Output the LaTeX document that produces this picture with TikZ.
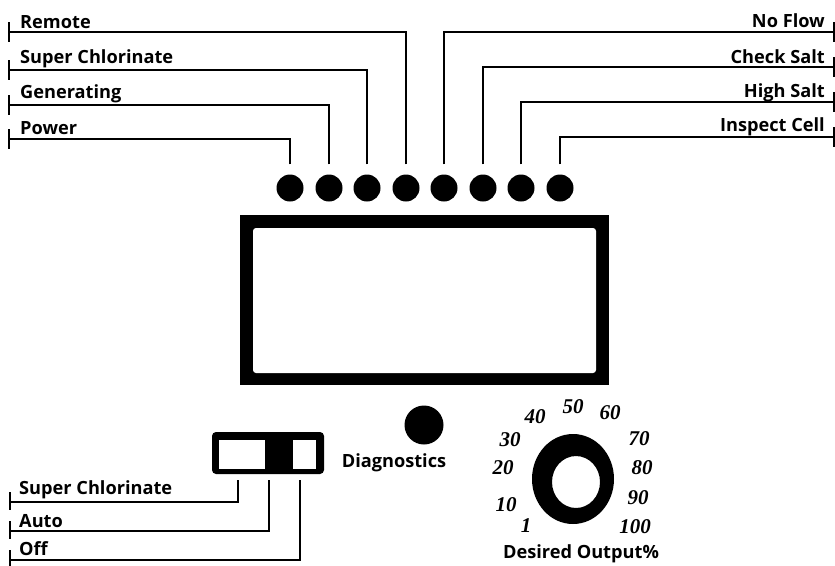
\documentclass[tikz,border=0pt]{standalone}
\usepackage{fontspec}
\setmainfont{Open Sans}
\newfontfamily\dialfont{Liberation Serif}
\begin{document}
\begin{tikzpicture}[x=1pt,y=-1pt,
  led/.style={circle,fill=black,minimum size=27pt,inner sep=0pt},
  lbl/.style={font=\bfseries\fontsize{18.2}{18}\selectfont,inner sep=0pt},
  wire/.style={line width=1.8pt},
  tick/.style={line width=1.6pt},
  dial/.style={font=\dialfont\bfseries\itshape\fontsize{21}{21}\selectfont,inner sep=0pt}]
\useasboundingbox (0,0) rectangle (835,565);
% LEDs
\foreach \i/\x in {1/290,2/329,3/367,4/406,5/444,6/483,7/521,8/560}
  \node[led] (l\i) at (\x,188) {};
% left labels
\node[lbl,anchor=base west] (tRemote) at (20,28) {Remote};
\node[lbl,anchor=base west] (tSuper) at (20,63) {Super Chlorinate};
\node[lbl,anchor=base west] (tGen) at (20,98) {Generating};
\node[lbl,anchor=base west] (tPower) at (20,134) {Power};
\coordinate (c4) at (9,32);
\coordinate (c3) at (9,70);
\coordinate (c2) at (9,105);
\coordinate (c1) at (9,139);
\foreach \i in {1,2,3,4}{
  \draw[wire] ([yshift=10pt]l\i.north) |- (c\i);
  \draw[tick] ([yshift=10pt]c\i) -- ([yshift=-10pt]c\i);
}
% right labels
\node[lbl,anchor=base east] (tNoFlow) at (825,27) {No Flow};
\node[lbl,anchor=base east] (tCheck) at (825,63) {Check Salt};
\node[lbl,anchor=base east] (tHigh) at (825,97) {High Salt};
\node[lbl,anchor=base east] (tInspect) at (825,131) {Inspect Cell};
\coordinate (c5) at (834,32);
\coordinate (c6) at (834,67);
\coordinate (c7) at (834,102);
\coordinate (c8) at (834,137);
\foreach \i in {5,6,7,8}{
  \draw[wire] ([yshift=10pt]l\i.north) |- (c\i);
  \draw[tick] ([yshift=10pt]c\i) -- ([yshift=-10pt]c\i);
}
% display
\fill[black] (240,215) rectangle (609,385);
\fill[white,rounded corners=3pt] (253,228) rectangle (596,373);
\node[inner sep=0pt] (disp) at (424,300) {};
% switch
\fill[black,rounded corners=4pt] (212,432) rectangle (324,474);
\fill[white] (219,440) rectangle (265,469);
\fill[white] (293,440) rectangle (316,469);
\coordinate (s1) at (238,480);
\coordinate (s2) at (269,480);
\coordinate (s3) at (300,480);
\coordinate (b1) at (10,502);
\coordinate (b2) at (10,531);
\coordinate (b3) at (10,560);
\foreach \i in {1,2,3}{
  \draw[wire] (s\i) |- (b\i);
  \draw[tick] ([yshift=10pt]b\i) -- ([yshift=-8pt]b\i);
}
\node[lbl,anchor=base west] (bSuper) at (19,494) {Super Chlorinate};
\node[lbl,anchor=base west] (bAuto) at (19,527) {Auto};
\node[lbl,anchor=base west] (bOff) at (19,555) {Off};
% diagnostics
\node[circle,fill=black,minimum size=39pt,inner sep=0pt] (diag) at (424,425) {};
\node[lbl,anchor=base] (tDiag) at (394,467) {Diagnostics};
% knob
\fill[black,even odd rule] (573,479) ellipse [x radius=41, y radius=45]
  (576,482) ellipse [x radius=24, y radius=26];
\node[inner sep=0pt] (knob) at (573,479) {};
\foreach \t/\x/\y in {1/526/526,10/506/505,20/503/468,30/510/440,40/535/417,50/573/407,60/610/413,70/639/439,80/642/468,90/638/498,100/635/527}
  \node[dial] at (\x,\y) {\t};
\node[lbl,anchor=base] (tOut) at (581,558) {Desired Output\%};
\end{tikzpicture}
\end{document}
